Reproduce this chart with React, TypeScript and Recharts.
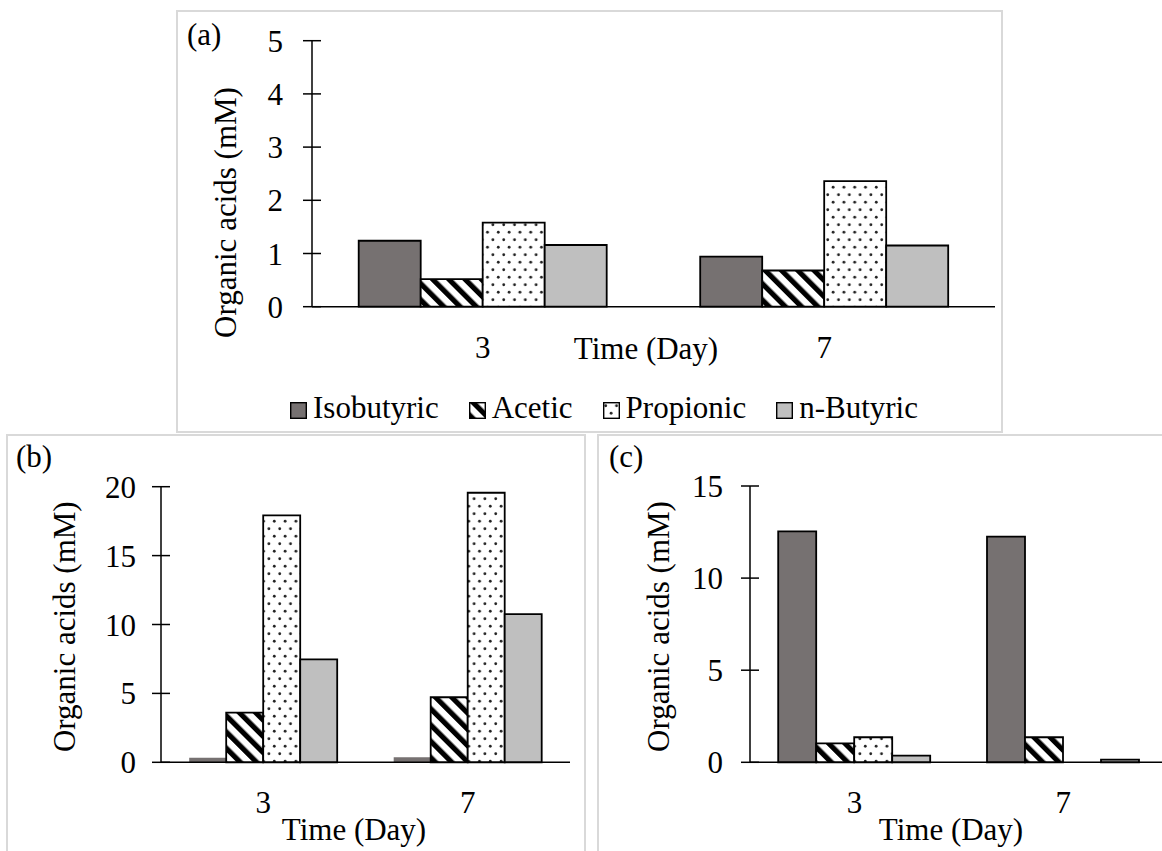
import { Bar, BarChart, Legend, XAxis, YAxis } from 'recharts';

const FONT = "'Liberation Serif', 'Times New Roman', 'DejaVu Serif', serif";
const FONT_SIZE = 31;

const days = ['3', '7'];

// (a)
const isobutyricA = [1.24, 0.94];
const aceticA = [0.52, 0.68];
const propionicA = [1.58, 2.36];
const nButyricA = [1.16, 1.15];
const ticksA = [0, 1, 2, 3, 4, 5];

// (b)
const isobutyricB = [0.33, 0.36];
const aceticB = [3.6, 4.72];
const propionicB = [17.92, 19.56];
const nButyricB = [7.47, 10.76];
const ticksB = [0, 5, 10, 15, 20];

// (c)
const isobutyricC = [12.54, 12.25];
const aceticC = [1.03, 1.36];
const propionicC = [1.36, 0];
const nButyricC = [0.36, 0.15];
const ticksC = [0, 5, 10, 15];

const SERIES = [
  { key: 'isobutyric', name: 'Isobutyric', fill: '#767171' },
  { key: 'acetic', name: 'Acetic', fill: 'url(#acetic)' },
  { key: 'propionic', name: 'Propionic', fill: 'url(#propionic)' },
  { key: 'nButyric', name: 'n-Butyric', fill: '#bfbfbf' },
];

interface Row {
  day: string;
  isobutyric: number;
  acetic: number;
  propionic: number;
  nButyric: number;
}

function rows(iso: number[], ace: number[], pro: number[], nbu: number[]): Row[] {
  return days.map((day, i) => ({
    day,
    isobutyric: iso[i],
    acetic: ace[i],
    propionic: pro[i],
    nButyric: nbu[i],
  }));
}

// shared fill patterns, referenced from every chart
function Patterns() {
  return (
    <svg width={0} height={0} style={{ position: 'absolute' }}>
      <defs>
        <pattern id="acetic" patternUnits="userSpaceOnUse" width={11.5} height={11.5} patternTransform="rotate(-45)">
          <rect width={11.5} height={11.5} fill="#fff" />
          <rect width={5.2} height={11.5} fill="#000" />
        </pattern>
        <pattern id="propionic" patternUnits="userSpaceOnUse" width={10.8} height={15}>
          <rect width={10.8} height={15} fill="#fff" />
          <circle cx={2.7} cy={3.75} r={1.4} fill="#222" />
          <circle cx={8.1} cy={11.25} r={1.4} fill="#222" />
        </pattern>
      </defs>
    </svg>
  );
}

function YTick({ x, y, payload, gap }: any) {
  return (
    <g>
      <line x1={x - 9} x2={x + 9} y1={y} y2={y} stroke="#000" strokeWidth={1.5} />
      <text x={x - gap} y={y} dy="0.355em" textAnchor="end" fontSize={FONT_SIZE} fontFamily={FONT} fill="#000">
        {payload.value}
      </text>
    </g>
  );
}

function LegendRow() {
  return (
    <div style={{ display: 'flex', fontFamily: FONT, fontSize: FONT_SIZE, lineHeight: `${FONT_SIZE}px`, color: '#000', whiteSpace: 'nowrap' }}>
      {SERIES.map((s) => (
        <span key={s.key} style={{ display: 'inline-flex', alignItems: 'center', marginRight: 30 }}>
          <svg width={17} height={17} style={{ position: 'relative', top: 3, marginRight: 6 }}>
            <rect x={0.7} y={0.7} width={15.6} height={15.6} fill={s.fill} stroke="#000" strokeWidth={1.4} />
          </svg>
          <span>{s.name}</span>
        </span>
      ))}
    </div>
  );
}

interface PanelProps {
  tag: string;
  data: Row[];
  ticks: number[];
  left: number;
  top: number;
  width: number;
  height: number;
  margin: { top: number; right: number; bottom: number; left: number };
  yAxisWidth: number;
  xAxisHeight: number;
  categoryGap: number;
  tickGap: number;
  yTitle: [number, number];
  xTitle: [number, number];
  tagPos: [number, number];
  legendPos?: [number, number];
  bare?: string[];
}

function Panel(p: PanelProps) {
  const [yx, yy] = p.yTitle;
  const [tx, ty] = p.xTitle;
  return (
    <div style={{ position: 'absolute', left: p.left, top: p.top, width: p.width, height: p.height }}>
      <div
        style={{
          position: 'absolute',
          left: p.tagPos[0],
          top: p.tagPos[1],
          fontFamily: FONT,
          fontSize: FONT_SIZE,
          lineHeight: `${FONT_SIZE}px`,
          color: '#000',
        }}
      >
        {p.tag}
      </div>
      <BarChart
        width={p.width}
        height={p.height}
        data={p.data}
        margin={p.margin}
        barCategoryGap={p.categoryGap}
        barGap={0}
      >
        <XAxis
          dataKey="day"
          height={p.xAxisHeight}
          interval={0}
          tickLine={false}
          tickSize={0}
          tickMargin={29}
          axisLine={{ stroke: '#000', strokeWidth: 1.5 }}
          tick={{ fill: '#000', fontSize: FONT_SIZE, fontFamily: FONT }}
          label={() => (
            <text x={tx} y={ty} textAnchor="middle" fontSize={FONT_SIZE} fontFamily={FONT} fill="#000">
              Time (Day)
            </text>
          )}
        />
        <YAxis
          width={p.yAxisWidth}
          domain={[0, p.ticks[p.ticks.length - 1]]}
          ticks={p.ticks}
          interval={0}
          tickLine={false}
          tickSize={0}
          tickMargin={0}
          axisLine={{ stroke: '#000', strokeWidth: 1.5 }}
          tick={(props: any) => <YTick {...props} gap={p.tickGap} />}
          label={() => (
            <text
              x={yx}
              y={yy}
              transform={`rotate(-90 ${yx} ${yy})`}
              textAnchor="middle"
              dominantBaseline="central"
              fontSize={FONT_SIZE}
              fontFamily={FONT}
              fill="#000"
            >
              Organic acids (mM)
            </text>
          )}
        />
        {p.legendPos && (
          <Legend
            layout="horizontal"
            verticalAlign="middle"
            align="center"
            wrapperStyle={{ left: p.legendPos[0], top: p.legendPos[1], width: 'auto' }}
            content={() => <LegendRow />}
          />
        )}
        {SERIES.map((s) => (
          <Bar
            key={s.key}
            dataKey={s.key}
            name={s.name}
            fill={s.fill}
            stroke={p.bare?.includes(s.key) ? 'none' : '#000'}
            strokeWidth={1.8}
            isAnimationActive={false}
          />
        ))}
      </BarChart>
    </div>
  );
}

export default function App() {
  return (
    <div
      style={{
        position: 'fixed',
        left: 0,
        top: 0,
        width: 1162,
        height: 851,
        overflow: 'hidden',
        background: '#fff',
      }}
    >
      <Patterns />
      {/* panel frames */}
      <div style={{ position: 'absolute', left: 176, top: 10, width: 827, height: 423, border: '2px solid #d9d9d9', boxSizing: 'border-box' }} />
      <div style={{ position: 'absolute', left: 6, top: 434, width: 580, height: 440, border: '2px solid #d9d9d9', boxSizing: 'border-box' }} />
      <div style={{ position: 'absolute', left: 597, top: 434, width: 620, height: 440, border: '2px solid #d9d9d9', boxSizing: 'border-box' }} />

      <Panel
        tag="(a)"
        data={rows(isobutyricA, aceticA, propionicA, nButyricA)}
        ticks={ticksA}
        left={177}
        top={11}
        width={825}
        height={421}
        margin={{ top: 29.7, right: 7, bottom: 65.3, left: 0 }}
        yAxisWidth={135}
        xAxisHeight={60}
        categoryGap={46.7}
        tickGap={29}
        yTitle={[48.5, 201.5]}
        xTitle={[469, 347.5]}
        tagPos={[10, 7.5]}
        legendPos={[113, 381]}
      />
      <Panel
        tag="(b)"
        data={rows(isobutyricB, aceticB, propionicB, nButyricB)}
        ticks={ticksB}
        left={7}
        top={435}
        width={577}
        height={416}
        margin={{ top: 51.7, right: 14, bottom: 48.7, left: 0 }}
        yAxisWidth={154}
        xAxisHeight={40}
        categoryGap={28.2}
        tickGap={25}
        yTitle={[58, 191.7]}
        xTitle={[347, 405]}
        tagPos={[9, 6]}
        bare={['isobutyric']}
      />
      <Panel
        tag="(c)"
        data={rows(isobutyricC, aceticC, propionicC, nButyricC)}
        ticks={ticksC}
        left={598}
        top={435}
        width={600}
        height={416}
        margin={{ top: 51, right: 30.4, bottom: 48.7, left: 0 }}
        yAxisWidth={152}
        xAxisHeight={40}
        categoryGap={28.2}
        tickGap={27}
        yTitle={[60.5, 191.5]}
        xTitle={[353, 405]}
        tagPos={[11, 6]}
      />
    </div>
  );
}
